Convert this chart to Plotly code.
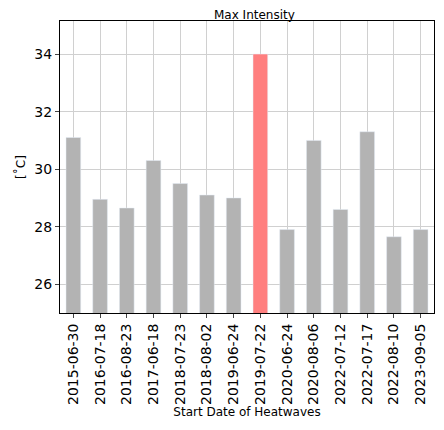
import plotly.graph_objects as go

dates = ["2015-06-30","2016-07-18","2016-08-23","2017-06-18","2018-07-23","2018-08-02","2019-06-24",
         "2019-07-22","2020-06-24","2020-08-06","2022-07-12","2022-07-17","2022-08-10","2023-09-05"]
values = [31.1, 28.95, 28.65, 30.3, 29.5, 29.1, 29.0, 34.0, 27.9, 31.0, 28.6, 31.3, 27.65, 27.9]
highlight = "2019-07-22"

colors = ["#ff7f7f" if d == highlight else "#b3b3b3" for d in dates]

fig = go.Figure(go.Bar(x=dates, y=values, marker_color=colors, width=0.55))
fig.update_layout(
    width=444, height=430, plot_bgcolor="white", paper_bgcolor="white",
    margin=dict(l=48, r=18, t=12, b=125), showlegend=False,
    font=dict(family="DejaVu Sans", color="black"),
    title=dict(text="Max Intensity", x=0.555, xanchor="center", y=0.995, yanchor="top", font=dict(size=12)),
)
fig.update_xaxes(type="category", tickangle=-90, tickfont=dict(size=14), showgrid=True, gridcolor="#d0d0d0",
                 showline=True, linecolor="black", mirror=True, ticks="outside", ticklen=4, layer="below traces",
                 title=dict(text="Start Date of Heatwaves", font=dict(size=12), standoff=2))
fig.update_yaxes(range=[25, 35.15], tickvals=[26, 28, 30, 32, 34], tickfont=dict(size=14), showgrid=True,
                 gridcolor="#d0d0d0", showline=True, linecolor="black", mirror=True, ticks="outside", ticklen=4,
                 zeroline=False, title=dict(text="[˚C]", font=dict(size=12), standoff=6))
fig.write_html("out.html")
